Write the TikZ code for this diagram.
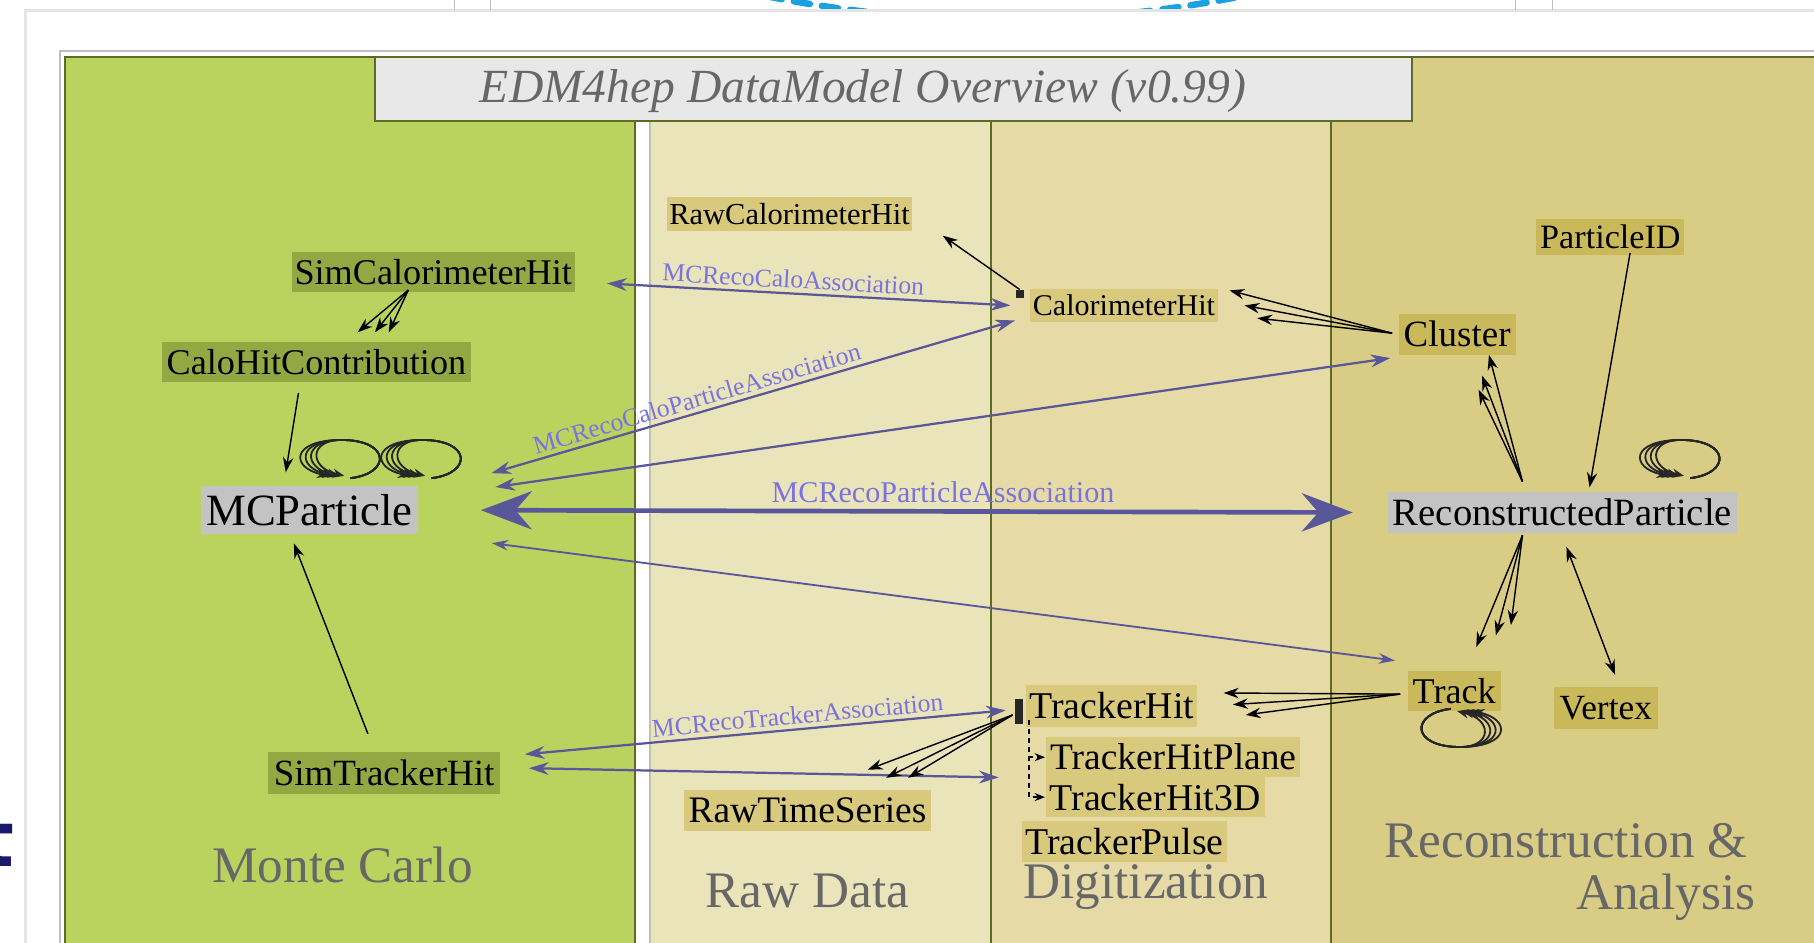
\documentclass[tikz,border=0pt]{standalone}
\usepackage{fontspec}
\setmainfont{Liberation Serif}
\setsansfont{DejaVu Sans}
\usepackage{tikz}
\usetikzlibrary{arrows.meta,positioning,calc}
\definecolor{mcgreen}{HTML}{BAD35E}
\definecolor{mcnode}{HTML}{93A843}
\definecolor{rawbg}{HTML}{EAE4BB}
\definecolor{digibg}{HTML}{E6DBA7}
\definecolor{recobg}{HTML}{D9CD85}
\definecolor{rawnode}{HTML}{D8C97D}
\definecolor{reconode}{HTML}{C9B95B}
\definecolor{partgray}{HTML}{C3C3C3}
\definecolor{olivedge}{HTML}{5E6B22}
\definecolor{titlebg}{HTML}{E8E8E8}
\definecolor{assocblue}{HTML}{575799}
\definecolor{assoctxt}{HTML}{7B73DD}
\definecolor{lanegray}{HTML}{676767}
\definecolor{framegray}{HTML}{BEBEBE}
\definecolor{cardgray}{HTML}{E4E4E4}
\definecolor{dotblue}{HTML}{1BA1E2}
\definecolor{navy}{HTML}{1A1A6C}
\tikzset{
  lanebox/.style={draw=olivedge,fill=#1,line width=0.5pt,anchor=north west,inner sep=0pt},
  ent/.style={fill=#1,inner xsep=0.5pt,inner ysep=0.5pt,text=black},
  ent/.default=rawnode,
  fs/.style={font=\fontsize{#1}{#1}\selectfont},
  lane/.style={font=\fontsize{12.6}{13}\selectfont,text=lanegray,inner sep=0pt,anchor=base},
  assoc/.style={{Stealth[length=1.7mm,width=1.1mm]}-{Stealth[length=1.7mm,width=1.1mm]},draw=assocblue,line width=0.55pt},
  assocthin/.style={{Stealth[length=1.4mm,width=0.9mm]}-{Stealth[length=1.4mm,width=0.9mm]},draw=assocblue,line width=0.45pt},
  lbl/.style={font=\fontsize{6.3}{7}\selectfont,text=assoctxt,inner sep=1pt},
  refarr/.style={-{Stealth[length=1.3mm,width=0.9mm]},line width=0.35pt,draw=black},
  loopar/.style={-{Stealth[length=1mm,width=0.8mm]},line width=0.45pt,draw=black!85},
  bar/.style={fill=black!85,inner sep=0pt},
}

\begin{document}
\begin{tikzpicture}
  \useasboundingbox (0,0) rectangle (15.68,-8.15);
  % slide card
  \fill[white] (0,0) rectangle (15.68,-8.15);
  \draw[cardgray,line width=0.6pt] (0.22,-8.3) -- (0.22,-0.09) -- (15.8,-0.09);
  \draw[framegray,line width=0.5pt] (0.52,-8.3) -- (0.52,-0.44) -- (15.8,-0.44);
  \foreach \x in {3.93,4.24,13.10,13.42}{ \draw[framegray] (\x,0.1) -- (\x,-0.09); }
  \begin{scope}
    \clip (0,0.1) rectangle (15.68,-0.07);
    \draw[dotblue,line width=1.6pt,dash pattern=on 4pt off 3pt,line cap=round] (8.68,10.33) ++(-104:10.5) arc[start angle=-104,end angle=-76,radius=10.5];
  \end{scope}
  \node[font=\sffamily\bfseries\fontsize{19}{19}\selectfont,text=navy,anchor=base east,inner sep=0pt] (tfrag) at (0.135,-7.49) {t};

  % lanes
  \node[lanebox=mcgreen,minimum width=4.93cm,minimum height=7.9cm] (mc) at (0.55,-0.48) {};
  \node[lanebox=rawbg,draw=olivedge!40,minimum width=2.95cm,minimum height=7.3cm] (raw) at (5.61,-1.04) {};
  \node[lanebox=digibg,minimum width=2.94cm,minimum height=7.3cm] (digi) at (8.56,-1.04) {};
  \node[lanebox=recobg,minimum width=4.6cm,minimum height=7.9cm] (rec) at (11.50,-0.48) {};
  \node[draw=olivedge,fill=titlebg,line width=0.5pt,minimum width=8.97cm,minimum height=0.56cm,anchor=north west] (title) at (3.23,-0.48) {};
  \node[font=\fontsize{11.7}{12}\selectfont\itshape,text=lanegray,anchor=base] (titletxt) at (7.46,-0.89) {EDM4hep DataModel Overview (v0.99)};

  \node[lane] (mclbl) at (2.96,-7.63) {Monte Carlo};
  \node[lane] (rawlbl) at (6.98,-7.84) {Raw Data};
  \node[lane] (digilbl) at (9.905,-7.77) {Digitization};
  \node[lane,anchor=base east] (reclbl) at (15.11,-7.41) {Reconstruction \&};
  \node[lane,anchor=base east] (anlbl) at (15.18,-7.86) {Analysis};

  % Monte Carlo
  \node[ent=mcnode,fs=8.9,minimum width=2.45cm,minimum height=0.34cm] (simcalo) at (3.745,-2.35) {SimCalorimeterHit};
  \node[ent=mcnode,fs=8.9,minimum width=2.67cm,minimum height=0.34cm] (calocontrib) at (2.735,-3.13) {CaloHitContribution};
  \node[ent=partgray,fs=11,minimum width=1.87cm,minimum height=0.42cm] (mcp) at (2.675,-4.41) {MCParticle};
  \node[ent=mcnode,fs=9.1,minimum width=2.00cm,minimum height=0.36cm] (simtrk) at (3.32,-6.68) {SimTrackerHit};

  % raw data and digitization
  \node[ent,fs=7.5,minimum width=2.11cm,minimum height=0.30cm] (rawcalo) at (6.825,-1.85) {RawCalorimeterHit};
  \node[ent,fs=9.2,minimum width=2.14cm,minimum height=0.35cm] (rawts) at (6.98,-7.005) {RawTimeSeries};
  \node[ent,fs=7.4,minimum width=1.63cm,minimum height=0.28cm] (calohit) at (9.715,-2.64) {CalorimeterHit};
  \node[bar,minimum width=0.07cm,minimum height=0.07cm] (calbar) at (8.815,-2.545) {};
  \node[ent,fs=9.3,minimum width=1.48cm,minimum height=0.36cm] (trkhit) at (9.61,-6.10) {TrackerHit};
  \node[bar,minimum width=0.07cm,minimum height=0.22cm] (trkbar) at (8.805,-6.15) {};
  \node[ent,fs=9.2,minimum width=2.20cm,minimum height=0.35cm] (trkplane) at (10.14,-6.545) {TrackerHitPlane};
  \node[ent,fs=9.3,minimum width=1.89cm,minimum height=0.34cm] (trk3d) at (9.985,-6.89) {TrackerHit3D};
  \node[ent,fs=9.3,minimum width=1.78cm,minimum height=0.35cm] (trkpulse) at (9.72,-7.275) {TrackerPulse};

  % reconstruction
  \node[ent=reconode,fs=8.4,minimum width=1.28cm,minimum height=0.31cm] (pid) at (13.92,-2.045) {ParticleID};
  \node[ent=reconode,fs=9.1,minimum width=1.01cm,minimum height=0.36cm] (cluster) at (12.595,-2.89) {Cluster};
  \node[ent=partgray,fs=9.5,minimum width=3.01cm,minimum height=0.36cm] (reco) at (13.505,-4.43) {ReconstructedParticle};
  \node[ent=reconode,fs=8.9,minimum width=0.80cm,minimum height=0.35cm] (track) at (12.57,-5.975) {Track};
  \node[ent=reconode,fs=8.7,minimum width=0.90cm,minimum height=0.36cm] (vertex) at (13.88,-6.12) {Vertex};

  % associations
  \draw[assoc] ($(simcalo.east)+(0.27,-0.10)$) -- node[lbl,sloped,above,pos=0.46] (lblcalo) {MCRecoCaloAssociation} ($(calohit.west)+(-0.16,0)$);
  \draw[assoc] ($(mcp.east)+(0.63,0.32)$) -- node[lbl,sloped,above,pos=0.40] (lblcalopart) {MCRecoCaloParticleAssociation} ($(calohit.west)+(-0.12,-0.13)$);
  \draw[assoc] ($(mcp.east)+(0.665,0.20)$) -- ($(cluster.west)+(-0.065,-0.205)$);
  \draw[{Stealth[length=4.4mm,width=3.3mm]}-{Stealth[length=4.4mm,width=3.3mm]},draw=assocblue,line width=1.15pt] ($(mcp.east)+(0.54,0)$) -- node[font=\fontsize{7.4}{8}\selectfont,text=assoctxt,above,inner sep=1.5pt,pos=0.53] (lblpart) {MCRecoParticleAssociation} ($(reco.west)+(-0.30,0)$);
  \draw[assocthin] ($(mcp.east)+(0.635,-0.285)$) -- ($(track.west)+(-0.105,0.265)$);
  \draw[assoc] ($(simtrk.east)+(0.21,0.16)$) -- node[lbl,sloped,above,pos=0.57] (lbltrk) {MCRecoTrackerAssociation} ($(trkbar.west)+(-0.07,0.01)$);
  \coordinate (plnin) at ($(trkplane.west)+(-0.40,-0.175)$);
  \draw[assoc] ($(simtrk.east)+(0.245,0.04)$) -- (plnin);

  % references
  \foreach \dx in {0.355,0.505,0.625}{ \draw[refarr] ($(simcalo.south)+(-0.215,0.02)$) -- ($(calocontrib.north)+(\dx,0.08)$); }
  \draw[refarr] ($(calocontrib.south)+(-0.155,-0.09)$) -- ($(mcp.north)+(-0.205,0.11)$);
  \draw[refarr] ($(simtrk.north)+(-0.14,0.15)$) -- ($(mcp.south)+(-0.135,-0.07)$);
  \draw[refarr] (calbar.north) -- ($(rawcalo.south east)+(0.26,-0.03)$);
  \foreach \dx/\dy in {0.09/0.13,0.22/0,0.33/-0.11}{ \draw[refarr] ($(cluster.west)+(-0.05,0.01)$) -- ($(calohit.east)+(\dx,\dy)$); }
  \foreach \dx/\dy in {0.275/0.01,0.215/-0.17,0.185/-0.29}{ \draw[refarr] ($(reco.north)+(-0.345,0.08)$) -- ($(cluster.south)+(\dx,\dy)$); }
  \draw[refarr] ($(pid.south)+(0.17,0.02)$) -- ($(reco.north)+(0.235,0.03)$);
  \foreach \dx/\dy in {0.19/0.20,0.36/0.30,0.49/0.39}{ \draw[refarr] ($(reco.south)+(-0.345,-0.01)$) -- ($(track.north)+(\dx,\dy)$); }
  \draw[refarr,{Stealth[length=1.3mm,width=0.9mm]}-{Stealth[length=1.3mm,width=0.9mm]}] ($(reco.south)+(0.035,-0.11)$) -- ($(vertex.north)+(0.08,0.10)$);
  \foreach \dx/\dy in {0.22/0.11,0.30/0.01,0.41/-0.08}{ \draw[refarr] ($(track.west)+(-0.06,-0.025)$) -- ($(trkhit.east)+(\dx,\dy)$); }
  \foreach \dx/\dy in {0.52/0.17,0.68/0.10,0.87/0.10}{ \draw[refarr] ($(trkbar.west)+(-0.01,-0.03)$) -- ($(rawts.north)+(\dx,\dy)$); }
  \coordinate (tdash) at ($(trkhit.south west)+(0.03,0.06)$);
  \draw[dash pattern=on 1.2pt off 1pt,line width=0.35pt,-{Stealth[length=0.9mm,width=0.7mm]}] (tdash) |- (trkplane.west);
  \draw[dash pattern=on 1.2pt off 1pt,line width=0.35pt,-{Stealth[length=0.9mm,width=0.7mm]}] (tdash) |- (trk3d.west);

  % self references
  \coordinate (lp1) at ($(mcp.north)+(0.355,0.06)$);
  \coordinate (lp2) at ($(mcp.north)+(1.055,0.06)$);
  \coordinate (lp3) at ($(reco.north)+(1.105,0.11)$);
  \coordinate (lp4) at ($(track.south)+(-0.03,0.03)$);
  \foreach \c/\r in {lp1/0,lp2/0,lp3/0,lp4/180}{
    \begin{scope}[shift={(\c)},rotate=\r]
      \foreach \k in {0,...,3}{
        \draw[loopar] (0,0) .. controls (0.35,0.04) and (0.35,0.33) .. (-0.08,0.33) .. controls ({-0.52+0.053*\k},0.33) and ({-0.52+0.053*\k},0.09) .. ({-0.19+0.045*\k},0.02);
      }
    \end{scope}
  }
\end{tikzpicture}
\end{document}
